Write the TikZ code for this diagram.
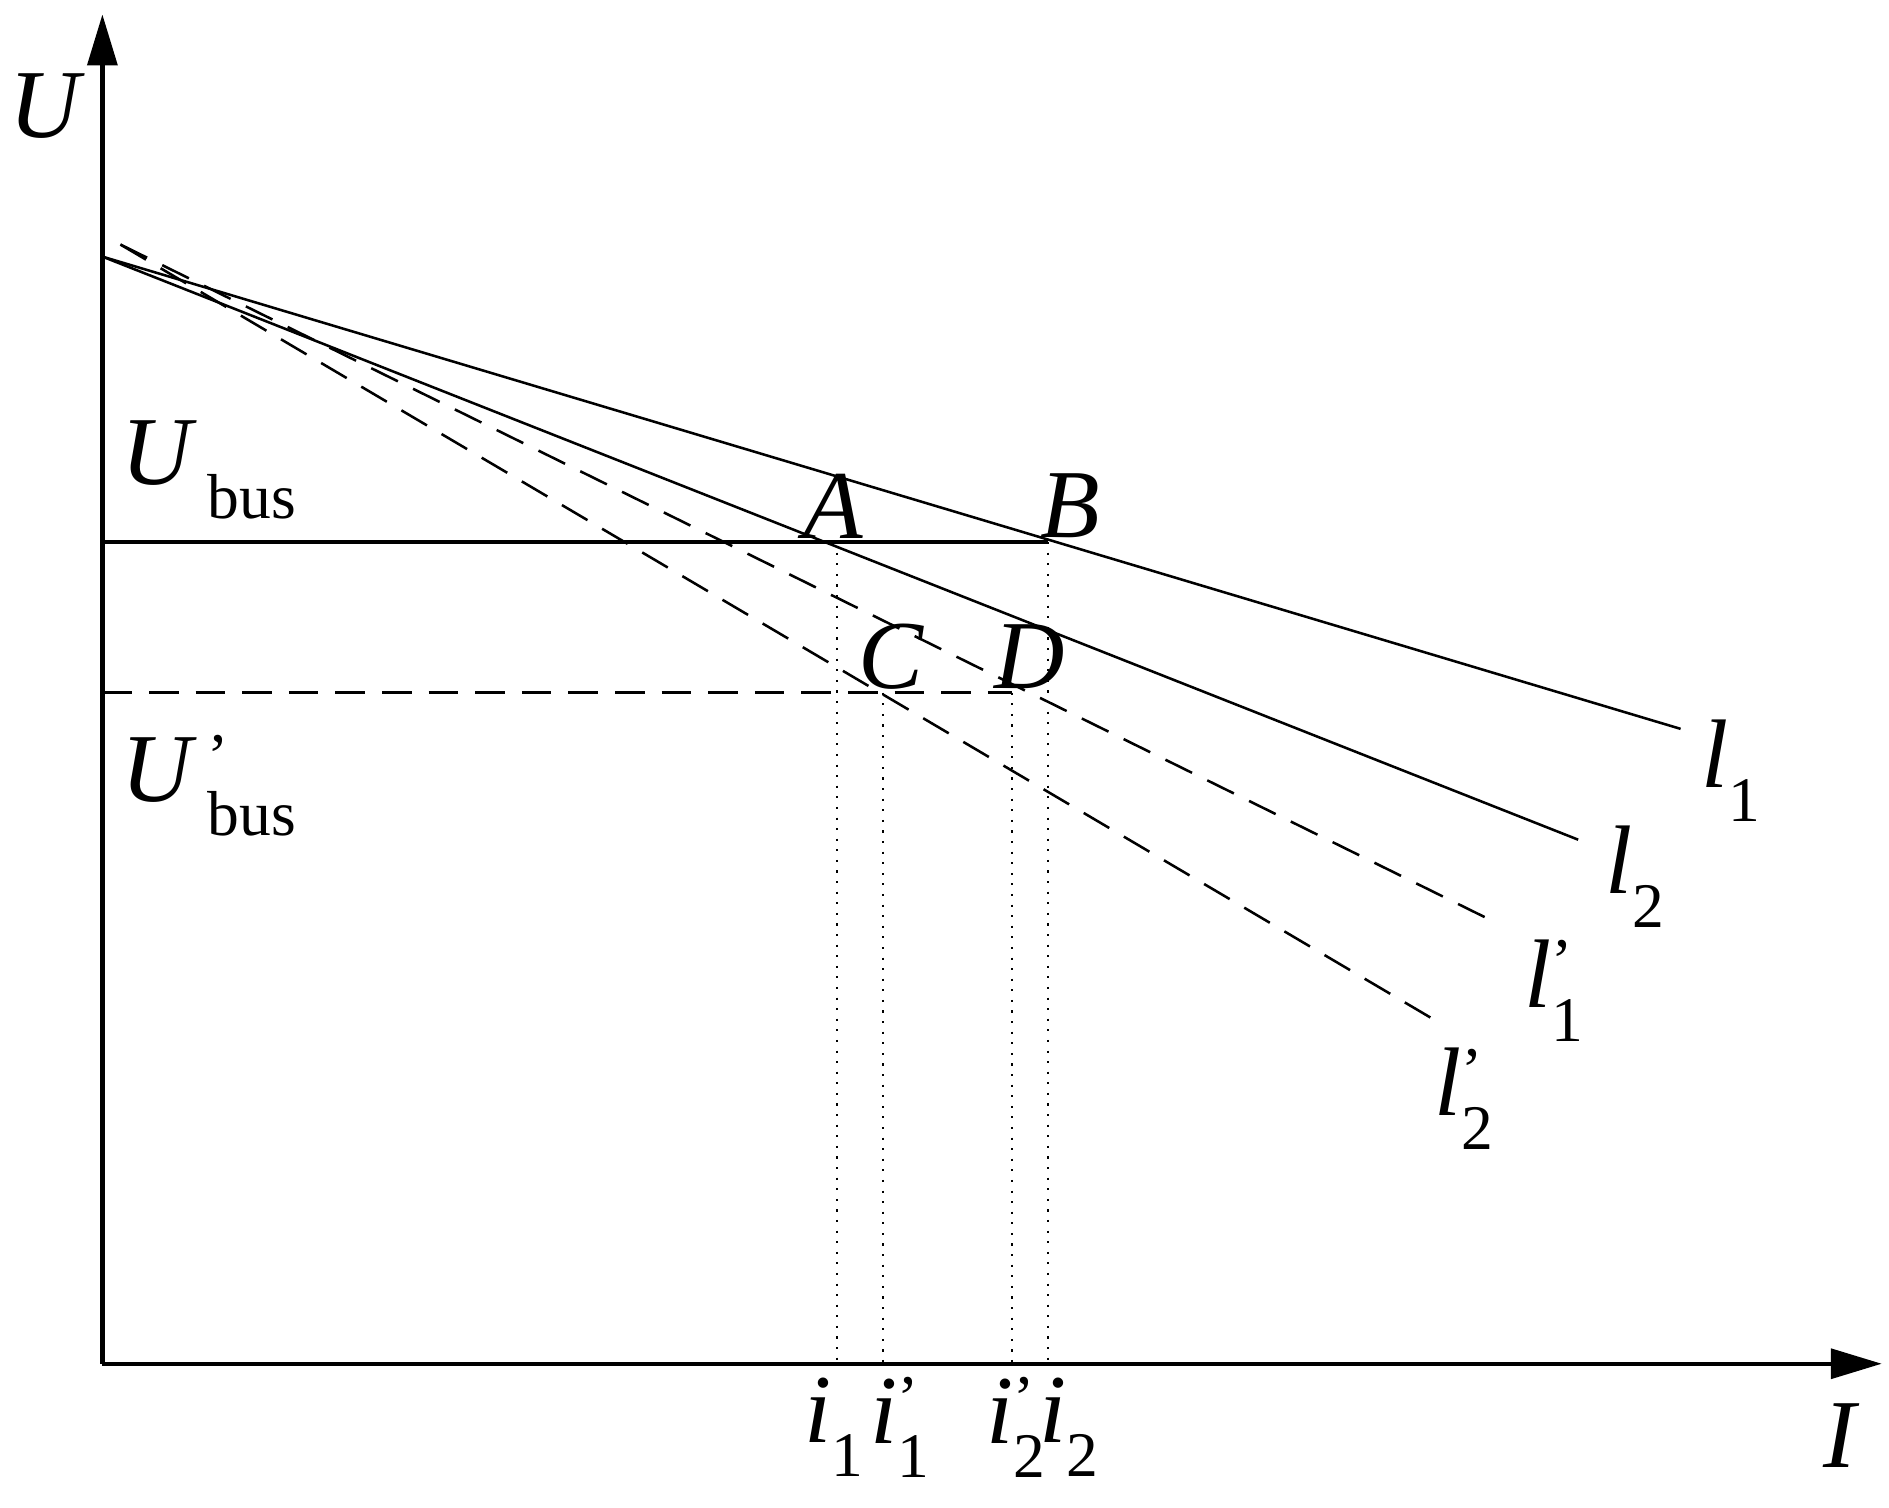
\documentclass[tikz,border=0pt]{standalone}
\usepackage{fontspec}
\setmainfont{Liberation Serif}
\usetikzlibrary{arrows.meta}
\newcommand{\sbx}[1]{\raisebox{-0.35em}{\upshape\fontsize{15}{17}\selectfont #1}}
\newcommand{\spx}{\rlap{\raisebox{0.25em}{\upshape\fontsize{15}{17}\selectfont '}}}
\begin{document}
\begin{tikzpicture}[x=0.01cm,y=-0.01cm,
  lab/.style={font=\fontsize{23}{27}\selectfont\itshape,inner sep=0pt},
  ln/.style={line width=0.6pt},
  dsh/.style={line width=0.6pt,dash pattern=on 7pt off 4pt},
  dot/.style={line width=0.5pt,dotted}]
\useasboundingbox (0,0) rectangle (1568,1251);
\coordinate (O) at (85,1132);
\coordinate (Ytop) at (85,12);
\coordinate (Xend) at (1562,1132);
\draw[line width=1pt,-{Triangle[length=12pt,width=7pt]}] (O) -- (Ytop);
\draw[line width=1pt,-{Triangle[length=12pt,width=7pt]}] (O) -- (Xend);
\coordinate (S) at (85,213);
\coordinate (S2) at (100,203);
\coordinate (L1) at (1395,605);
\coordinate (L2) at (1310,697);
\coordinate (L1p) at (1240,765);
\coordinate (L2p) at (1188,845);
\coordinate (PA) at (695,450);
\coordinate (PB) at (870,450);
\coordinate (PC) at (733,575);
\coordinate (PD) at (840,575);
\coordinate (UB) at (85,450);
\coordinate (UBp) at (85,575);
\draw[ln] (S) -- (L1);
\draw[ln] (S) -- (L2);
\draw[dsh] (S2) -- (L1p);
\draw[dsh] (S2) -- (L2p);
\draw[line width=1.1pt] (UB) -- (PB);
\draw[dsh] (UBp) -- (PD);
\draw[dot] (PA) -- (695,1132);
\draw[dot] (PB) -- (870,1132);
\draw[dot] (PC) -- (733,1132);
\draw[dot] (PD) -- (840,1132);
\node[lab] (U) at (37,88) {U};
\node[lab] (I) at (1527,1192) {I};
\node[lab] (A) at (692,420) {A};
\node[lab] (B) at (888,420) {B};
\node[lab] (C) at (740,545) {C};
\node[lab] (D) at (855,545) {D};
\node[lab,anchor=west] (ub) at (100,390) {U\,\sbx{bus}};
\node[lab,anchor=west] (ubp) at (100,652) {U\,\spx\sbx{bus}};
\node[lab,anchor=west] (l1) at (1412,640) {l\sbx{1}};
\node[lab,anchor=west] (l2) at (1332,728) {l\sbx{2}};
\node[lab,anchor=west] (l1p) at (1265,822) {l\spx\sbx{1}};
\node[lab,anchor=west] (l2p) at (1190,912) {l\spx\sbx{2}};
\node[lab,anchor=west] (i1) at (667,1185) {i\sbx{1}};
\node[lab,anchor=west] (i1p) at (722,1185) {i\spx\sbx{1}};
\node[lab,anchor=west] (i2p) at (818,1185) {i\spx\sbx{2}};
\node[lab,anchor=west] (i2) at (862,1185) {i\sbx{2}};
\end{tikzpicture}
\end{document}
